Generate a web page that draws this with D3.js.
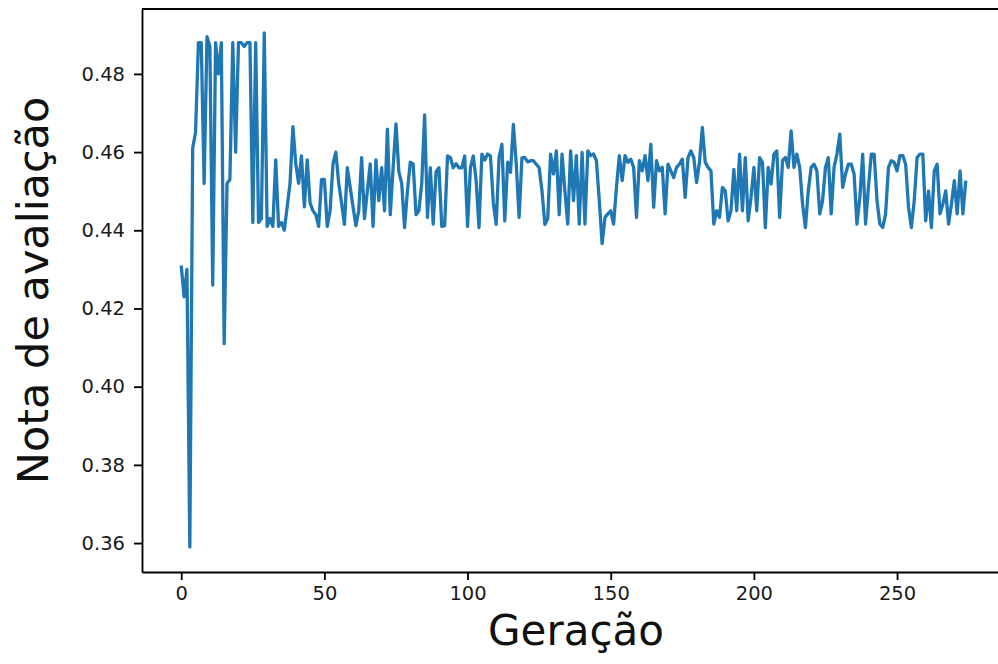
<!DOCTYPE html>
<html>
<head>
<meta charset="utf-8">
<script src="https://cdn.jsdelivr.net/npm/d3@7"></script>
<style>
  body { margin: 0; background: #fff; }
  text { font-family: "DejaVu Sans", sans-serif; }
</style>
</head>
<body>
<div id="chart"></div>
<script>
// nota de avaliação por geração
const nota = [
  0.431, 0.423, 0.430, 0.359, 0.461, 0.465, 0.488, 0.488, 0.452, 0.4895,
  0.487, 0.426, 0.488, 0.480, 0.488, 0.411, 0.452, 0.453, 0.488, 0.460,
  0.488, 0.488, 0.487, 0.488, 0.488, 0.442, 0.488, 0.442, 0.443, 0.4905,
  0.441, 0.443, 0.441, 0.458, 0.441, 0.442, 0.440, 0.446, 0.452, 0.4665,
  0.457, 0.452, 0.459, 0.446, 0.458, 0.447, 0.445, 0.444, 0.441, 0.453,
  0.453, 0.441, 0.445, 0.457, 0.460, 0.452, 0.447, 0.4415, 0.456, 0.451,
  0.446, 0.4412, 0.445, 0.4586, 0.443, 0.450, 0.457, 0.441, 0.458, 0.4476,
  0.456, 0.445, 0.4659, 0.444, 0.456, 0.4672, 0.455, 0.452, 0.4407, 0.450,
  0.4574, 0.457, 0.444, 0.445, 0.452, 0.4695, 0.4433, 0.456, 0.4416, 0.455,
  0.456, 0.441, 0.4412, 0.459, 0.4586, 0.456, 0.457, 0.456, 0.456, 0.459,
  0.441, 0.456, 0.459, 0.4527, 0.4407, 0.4595, 0.458, 0.4595, 0.459, 0.447,
  0.4415, 0.4586, 0.462, 0.4424, 0.4574, 0.4548, 0.4671, 0.457, 0.4433, 0.4586,
  0.4586, 0.4575, 0.4578, 0.4578, 0.4569, 0.456, 0.450, 0.4415, 0.443, 0.4595,
  0.4544, 0.4603, 0.444, 0.4595, 0.450, 0.4416, 0.4603, 0.4476, 0.4591, 0.4416,
  0.4599, 0.4416, 0.4603, 0.4591, 0.4595, 0.4578, 0.4476, 0.4366, 0.4433, 0.4442,
  0.445, 0.4416, 0.451, 0.4591, 0.4527, 0.4591, 0.4574, 0.4582, 0.4561, 0.4433,
  0.4578, 0.4552, 0.4591, 0.4527, 0.462, 0.4459, 0.4578, 0.4552, 0.4561, 0.4442,
  0.4569, 0.4552, 0.4535, 0.4561, 0.4569, 0.4582, 0.4484, 0.4586, 0.4603, 0.4586,
  0.4522, 0.4574, 0.4663, 0.4574, 0.4561, 0.4552, 0.4416, 0.445, 0.4433, 0.451,
  0.4501, 0.4424, 0.445, 0.4556, 0.445, 0.4595, 0.445, 0.4586, 0.4424, 0.4484,
  0.4561, 0.445, 0.4586, 0.4574, 0.4407, 0.4561, 0.4518, 0.4595, 0.4603, 0.4433,
  0.4578, 0.4586, 0.4561, 0.4654, 0.4561, 0.4595, 0.4561, 0.4467, 0.4407, 0.4501,
  0.4561, 0.4569, 0.4552, 0.4442, 0.4476, 0.4561, 0.4586, 0.4442, 0.4561, 0.4595,
  0.4646, 0.451, 0.4544, 0.4569, 0.4569, 0.4544, 0.4416, 0.4484, 0.4595, 0.4416,
  0.451, 0.4595, 0.4595, 0.4476, 0.4416, 0.4407, 0.4442, 0.4561, 0.4578, 0.4574,
  0.4552, 0.4591, 0.4591, 0.4569, 0.4459, 0.4407, 0.4476, 0.4586, 0.4595, 0.4595,
  0.4424, 0.450, 0.4407, 0.4552, 0.4569, 0.4442, 0.4467, 0.4501, 0.4416, 0.4467,
  0.4527, 0.4442, 0.4552, 0.4442, 0.4527
];
const geracao = nota.map((d, i) => i); // geração 0..274

const xTicks = [0, 50, 100, 150, 200, 250];
const yTicks = [0.36, 0.38, 0.40, 0.42, 0.44, 0.46, 0.48];

const width = 998,
      height = 664,
      margin = ({ top: 9, right: -7, bottom: 92, left: 142 }); // right spine falls just off the picture

let svg = d3.select("#chart")
    .append("svg")
    .attr("width", width)
    .attr("height", height);

let x = d3.scaleLinear()
    .domain([-13.7, 287.7])
    .range([margin.left, width - margin.right]);

let y = d3.scaleLinear()
    .domain([0.3526, 0.4966])
    .range([height - margin.bottom, margin.top]);

// the line itself, drawn before the spines like matplotlib does
let line = d3.line()
    .x((d, i) => x(geracao[i]))
    .y(d => y(d));

svg.append("path")
    .datum(nota)
    .attr("fill", "none")
    .attr("stroke", "#1f77b4")
    .attr("stroke-width", 3.3)
    .attr("stroke-linejoin", "round")
    .attr("d", line);

// x axis
let gx = svg.append("g")
    .attr("transform", `translate(0,${height - margin.bottom})`)
    .call(d3.axisBottom(x).tickValues(xTicks).tickFormat(d3.format("d")).tickSize(8).tickPadding(6).tickSizeOuter(0));

// y axis
let gy = svg.append("g")
    .attr("transform", `translate(${margin.left},0)`)
    .call(d3.axisLeft(y).tickValues(yTicks).tickFormat(d3.format(".2f")).tickSize(8).tickPadding(9).tickSizeOuter(0));

for (let g of [gx, gy]) {
    g.select(".domain").attr("stroke", "#000").attr("stroke-width", 1.85);
    g.selectAll(".tick line").attr("stroke", "#000").attr("stroke-width", 1.85);
    g.selectAll(".tick text")
        .attr("fill", "#1a1a1a")
        .style("font-family", "DejaVu Sans")
        .style("font-size", "19.5px");
}

// top and right spines
svg.append("line")
    .attr("x1", x.range()[0]).attr("x2", x.range()[1])
    .attr("y1", margin.top).attr("y2", margin.top)
    .attr("stroke", "#000").attr("stroke-width", 1.85);

svg.append("line")
    .attr("x1", x.range()[1]).attr("x2", x.range()[1])
    .attr("y1", margin.top).attr("y2", height - margin.bottom)
    .attr("stroke", "#000").attr("stroke-width", 1.85);

// axis labels
svg.append("text")
    .attr("x", 576)
    .attr("y", 645)
    .attr("text-anchor", "middle")
    .style("font-size", "42px")
    .style("fill", "#111")
    .text("Geração");

svg.append("text")
    .attr("transform", `translate(48,${(margin.top + height - margin.bottom) / 2}) rotate(-90)`)
    .attr("text-anchor", "middle")
    .style("font-size", "43px")
    .style("fill", "#111")
    .text("Nota de avaliação");
</script>
</body>
</html>
